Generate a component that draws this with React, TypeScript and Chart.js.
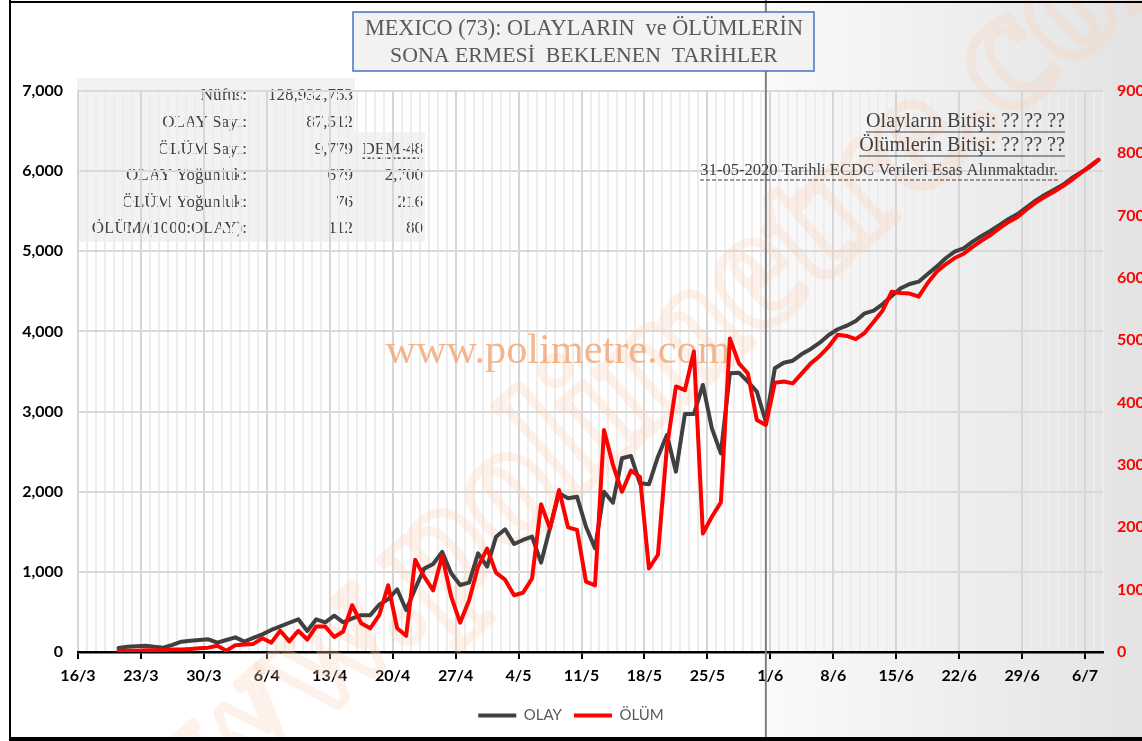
import { useEffect, useRef } from "react";
import { Chart, registerables } from "chart.js";

Chart.register(...registerables);

// ---------- data ----------
const axisStart = { year: 2020, month: 2, day: 16 }; // 16/3/2020 = day 0
const axisDays = 114;
const firstDataDay = 4; // 20/3
const dividerDay = 76.5; // 31/5 (last ECDC data day)

// daily new cases (OLAY), reported 20/3 .. 31/5
const olayActual = [
  50, 65, 72, 79, 65, 54, 90, 129, 140, 150, 158, 116, 150, 183, 129, 175, 220,
  275, 320, 365, 408, 262, 408, 370, 453, 370, 420, 460, 460, 590, 660, 780, 524,
  790, 1040, 1098, 1250, 982, 836, 865, 1231, 1065, 1439, 1531, 1348, 1398, 1439,
  1114, 1550, 1980, 1918, 1938, 1563, 1294, 2000, 1863, 2417, 2446, 2105, 2092,
  2437, 2708, 2250, 2970, 2970, 3332, 2791, 2479, 3478, 3485, 3373, 3248, 2874,
];
// projected daily new cases 1/6 .. 6/7
const olayProjected = [
  3540, 3610, 3635, 3718, 3781, 3860, 3956, 4027, 4072, 4130, 4226, 4259, 4342,
  4442, 4538, 4592, 4621, 4717, 4808, 4913, 4995, 5037, 5120, 5191, 5257, 5328,
  5403, 5465, 5549, 5632, 5703, 5765, 5827, 5911, 5981, 6048, 6139,
];
// daily deaths (ÖLÜM), reported 20/3 .. 31/5
const olumActual = [
  2, 2, 2, 3, 3, 3, 4, 4, 5, 6, 7, 10, 2, 11, 12, 13, 22, 15, 34, 17, 34, 20, 41,
  41, 24, 33, 75, 46, 38, 59, 107, 38, 26, 148, 121, 99, 154, 89, 47, 83, 137,
  166, 127, 116, 91, 95, 118, 237, 198, 260, 200, 196, 113, 107, 356, 300, 257,
  291, 281, 134, 156, 329, 426, 420, 482, 190, 217, 240, 503, 463, 447, 372, 364,
];
// projected daily deaths 1/6 .. 6/7
const olumProjected = [
  432, 434, 431, 447, 463, 475, 490, 509, 507, 502, 512, 530, 548, 578, 576, 575,
  570, 592, 610, 622, 632, 639, 650, 660, 669, 680, 690, 698, 710, 721, 730, 738,
  747, 757, 768, 779, 790,
];

const leftMax = 7000;
const leftStep = 1000;
const rightMax = 900;
const rightStep = 100;
const tickEvery = 7;

const seriesNames = ["OLAY", "ÖLÜM"];

const tableLabels = [
  "Nüfus:",
  "OLAY Sayı:",
  "ÖLÜM Sayı:",
  "OLAY Yoğunluk:",
  "ÖLÜM Yoğunluk:",
  "ÖLÜM/(1000:OLAY):",
];
const tableValues = ["128,932,753", "87,512", "9,779", "679", "76", "112"];
const tableExtra = ["", "", "DEM-48", "2,700", "216", "80"];

const titleLines = [
  "MEXICO (73): OLAYLARIN  ve ÖLÜMLERİN",
  "SONA ERMESİ  BEKLENEN  TARİHLER",
];
const endNotes = ["Olayların Bitişi: ?? ?? ??", "Ölümlerin Bitişi: ?? ?? ??"];
const sourceNote = "31-05-2020 Tarihli ECDC Verileri Esas Alınmaktadır.";
const watermark = "www.polimetre.com";

// ---------- helpers ----------
function dayLabel(v: number) {
  const d = new Date(axisStart.year, axisStart.month, axisStart.day + v);
  return `${d.getDate()}/${d.getMonth() + 1}`;
}

function toPoints(values: number[], startDay: number) {
  return values.map((y, i) => ({ x: startDay + i + 0.5, y }));
}

const SERIF = "'Liberation Serif', 'Times New Roman', serif";

function fitFont(
  ctx: CanvasRenderingContext2D,
  text: string,
  width: number,
  base: number,
  family: string
) {
  ctx.font = `${base}px ${family}`;
  const w = ctx.measureText(text).width;
  const size = (base * width) / w;
  ctx.font = `${size}px ${family}`;
  return size;
}

const decorPlugin = {
  id: "decor",
  beforeDraw(chart: any) {
    const ctx: CanvasRenderingContext2D = chart.ctx;
    const W = chart.width;
    const H = chart.height;
    const xs = chart.scales.x;
    const divX = xs.getPixelForValue(dividerDay);
    ctx.save();
    ctx.fillStyle = "#ffffff";
    ctx.fillRect(0, 0, W, H);
    const g = ctx.createLinearGradient(divX, 0, W, 0);
    g.addColorStop(0, "#fafafa");
    g.addColorStop(1, "#e3e3e3");
    ctx.fillStyle = g;
    ctx.fillRect(divX, 0, W - divX, H);

    // info table
    ctx.fillStyle = "#f2f2f2";
    ctx.fillRect(77, 78, 278, 164);
    ctx.fillRect(355, 132, 70, 110);
    ctx.font = `17px ${SERIF}`;
    ctx.fillStyle = "#404040";
    ctx.textBaseline = "middle";
    ctx.textAlign = "right";
    tableLabels.forEach((t, i) => {
      const y = 96 + i * 26.6;
      ctx.fillText(t, 247, y);
      ctx.fillText(tableValues[i], 353, y);
      if (tableExtra[i]) {
        ctx.fillText(tableExtra[i], 423, y);
        if (tableExtra[i] === "DEM-48") {
          const w = ctx.measureText(tableExtra[i]).width;
          ctx.strokeStyle = "#262626";
          ctx.lineWidth = 1.3;
          ctx.setLineDash([3, 2]);
          ctx.beginPath();
          ctx.moveTo(423 - w, y + 9);
          ctx.lineTo(423, y + 9);
          ctx.stroke();
          ctx.setLineDash([]);
        }
      }
    });
    ctx.restore();
  },
  beforeDatasetsDraw(chart: any) {
    const ctx: CanvasRenderingContext2D = chart.ctx;
    const H = chart.height;
    const xs = chart.scales.x;
    const divX = xs.getPixelForValue(dividerDay);
    ctx.save();
    // big diagonal watermark (outlined letters)
    ctx.save();
    ctx.translate(650, 372);
    ctx.rotate((-41 * Math.PI) / 180);
    ctx.font = `bold 175px ${SERIF}`;
    ctx.textAlign = "center";
    ctx.textBaseline = "middle";
    ctx.strokeStyle = "rgba(249, 210, 186, 0.3)";
    ctx.lineWidth = 9;
    ctx.lineJoin = "round";
    ctx.strokeText(watermark, 0, 0);
    ctx.restore();

    // small watermark
    ctx.fillStyle = "rgba(241, 165, 112, 0.8)";
    ctx.textAlign = "center";
    ctx.textBaseline = "middle";
    fitFont(ctx, watermark, 345, 42, SERIF);
    ctx.fillText(watermark, 558, 352);

    // divider
    ctx.strokeStyle = "#7f7f7f";
    ctx.lineWidth = 2;
    ctx.beginPath();
    ctx.moveTo(divX, 0);
    ctx.lineTo(divX, H);
    ctx.stroke();

    // end notes
    ctx.fillStyle = "#404040";
    ctx.strokeStyle = "#404040";
    ctx.textAlign = "right";
    ctx.textBaseline = "middle";
    const noteY = [122, 146];
    const noteW = [199, 206];
    endNotes.forEach((t, i) => {
      fitFont(ctx, t, noteW[i], 18, SERIF);
      ctx.fillText(t, 1065, noteY[i]);
      ctx.lineWidth = 1.2;
      ctx.beginPath();
      ctx.moveTo(1065 - noteW[i], noteY[i] + 10);
      ctx.lineTo(1065, noteY[i] + 10);
      ctx.stroke();
    });
    fitFont(ctx, sourceNote, 358, 15, SERIF);
    ctx.fillText(sourceNote, 1058, 171);
    ctx.setLineDash([4, 2]);
    ctx.beginPath();
    ctx.moveTo(700, 180);
    ctx.lineTo(1058, 180);
    ctx.stroke();
    ctx.setLineDash([]);
    ctx.restore();
  },
  afterDraw(chart: any) {
    const ctx: CanvasRenderingContext2D = chart.ctx;
    const W = chart.width;
    const H = chart.height;
    ctx.save();
    // title box
    ctx.fillStyle = "#f2f2f2";
    ctx.fillRect(353, 12, 461, 59);
    ctx.strokeStyle = "#4472c4";
    ctx.lineWidth = 1.5;
    ctx.strokeRect(353, 12, 461, 59);
    ctx.fillStyle = "#595959";
    ctx.textAlign = "center";
    ctx.textBaseline = "middle";
    fitFont(ctx, titleLines[0], 438, 22, SERIF);
    ctx.fillText(titleLines[0], 584, 29);
    fitFont(ctx, titleLines[1], 388, 22, SERIF);
    ctx.fillText(titleLines[1], 584, 56);

    // outer frame
    ctx.strokeStyle = "#000";
    ctx.lineWidth = 2;
    ctx.beginPath();
    ctx.moveTo(10, 0);
    ctx.lineTo(10, H);
    ctx.moveTo(10, 2);
    ctx.lineTo(W, 2);
    ctx.stroke();
    ctx.fillStyle = "#000";
    ctx.fillRect(10, H - 4, W - 10, 4);
    ctx.restore();
  },
};

export default function App() {
  const ref = useRef<HTMLCanvasElement | null>(null);

  useEffect(() => {
    const canvas = ref.current;
    if (!canvas) return;
    const olayPts = toPoints([...olayActual, ...olayProjected], firstDataDay);
    const olumPts = toPoints([...olumActual, ...olumProjected], firstDataDay);
    const boldFont = { family: "Lato, 'Open Sans', sans-serif", size: 16, weight: "bold" as const };

    const chart = new Chart(canvas, {
      type: "line",
      data: {
        datasets: [
          {
            label: seriesNames[0],
            data: olayPts,
            borderColor: "#404040",
            backgroundColor: "#404040",
            borderWidth: 4,
            pointRadius: 0,
            pointStyle: "line",
            tension: 0,
            yAxisID: "y",
            order: 1,
            borderJoinStyle: "round",
            borderCapStyle: "round",
          },
          {
            label: seriesNames[1],
            data: olumPts,
            borderColor: "#ff0000",
            backgroundColor: "#ff0000",
            borderWidth: 4,
            pointRadius: 0,
            pointStyle: "line",
            tension: 0,
            yAxisID: "y2",
            order: 0,
            borderJoinStyle: "round",
            borderCapStyle: "round",
          },
        ],
      },
      options: {
        responsive: false,
        animation: false,
        devicePixelRatio: 1,
        layout: { padding: { top: 91, left: 0, right: 0, bottom: 8 } },
        plugins: {
          tooltip: { enabled: false },
          title: { display: false },
          legend: {
            position: "bottom",
            labels: {
              usePointStyle: true,
              pointStyle: "line",
              pointStyleWidth: 38,
              boxHeight: 4,
              color: "#595959",
              font: { family: "Lato, 'Open Sans', sans-serif", size: 15 },
              padding: 12,
              sort: (a: any, b: any) => a.datasetIndex - b.datasetIndex,
            },
          },
        },
        scales: {
          x: {
            type: "linear",
            min: 0,
            max: axisDays,
            ticks: {
              stepSize: 1,
              autoSkip: false,
              maxRotation: 0,
              minRotation: 0,
              padding: 7,
              color: "#000",
              font: boldFont,
              callback: (v: any) => (Number(v) % tickEvery === 0 ? dayLabel(Number(v)) : ""),
            },
            grid: {
              color: (c: any) =>
                c.tick && c.tick.value % tickEvery === 0 ? "#d6d6d6" : "#ededed",
              lineWidth: 2,
              tickLength: 7,
              tickWidth: 2,
              tickColor: (c: any) =>
                c.tick && c.tick.value % tickEvery === 0 ? "#000" : "rgba(0,0,0,0)",
            },
            border: { color: "#000", width: 2.5 },
            afterFit: (s: any) => {
              s.height = 44;
            },
          },
          y: {
            position: "left",
            min: 0,
            max: leftMax,
            ticks: {
              stepSize: leftStep,
              padding: 15,
              color: "#000",
              font: boldFont,
              callback: (v: any) => Number(v).toLocaleString("en-US"),
            },
            grid: { color: "#d9d9d9", lineWidth: 2, drawTicks: false },
            border: { display: false },
            afterFit: (s: any) => {
              s.width = 78;
            },
          },
          y2: {
            position: "right",
            min: 0,
            max: rightMax,
            ticks: {
              stepSize: rightStep,
              padding: 14,
              color: "#ff0000",
              font: boldFont,
            },
            grid: { display: false, drawTicks: false },
            border: { display: false },
            afterFit: (s: any) => {
              s.width = 39;
            },
          },
        },
      },
      plugins: [decorPlugin],
    });
    return () => chart.destroy();
  }, []);

  return (
    <div style={{ position: "absolute", left: 0, top: 0, width: 1142, height: 741 }}>
      <canvas ref={ref} width={1142} height={741} style={{ display: "block" }} />
    </div>
  );
}
